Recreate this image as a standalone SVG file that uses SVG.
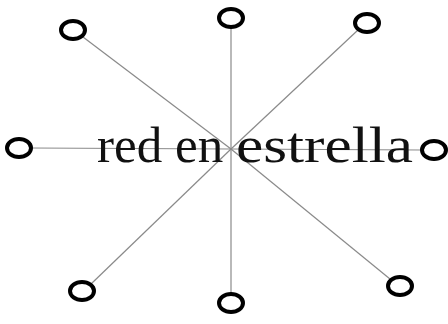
<svg xmlns="http://www.w3.org/2000/svg" width="448" height="324" viewBox="0 0 448 324">
<style>
.n{fill:none;stroke:#000;stroke-width:4}
.c line{stroke:#8a8a8a;stroke-width:1.2}
.t{font-family:"Liberation Serif","Times New Roman",serif;font-size:51px;fill:#111}
</style>
<rect width="448" height="324" fill="#fff"/>
<g class="c" id="connectors">
<line x1="231" y1="149" x2="83" y2="37"/>
<line x1="231" y1="149" x2="231" y2="27"/>
<line x1="231" y1="149" x2="358" y2="30"/>
<line x1="231" y1="149" x2="31" y2="148"/>
<line x1="231" y1="149" x2="422" y2="150"/>
<line x1="231" y1="149" x2="91" y2="284"/>
<line x1="231" y1="149" x2="231" y2="295"/>
<line x1="231" y1="149" x2="390" y2="279"/>
</g>
<g id="n1"><ellipse class="n" cx="73" cy="30" rx="12" ry="9"/></g>
<g id="n2"><ellipse class="n" cx="231" cy="18" rx="12" ry="9"/></g>
<g id="n3"><ellipse class="n" cx="367" cy="23" rx="12" ry="9"/></g>
<g id="n4"><ellipse class="n" cx="19" cy="148" rx="12" ry="9"/></g>
<g id="n5"><ellipse class="n" cx="434" cy="150" rx="12" ry="9"/></g>
<g id="n6"><ellipse class="n" cx="82" cy="291" rx="12" ry="9"/></g>
<g id="n7"><ellipse class="n" cx="231" cy="303" rx="12" ry="9"/></g>
<g id="n8"><ellipse class="n" cx="400" cy="286" rx="12" ry="9"/></g>
<g id="label"><text class="t" y="162"><tspan x="97" textLength="139" lengthAdjust="spacingAndGlyphs">red en </tspan><tspan x="236" textLength="177" lengthAdjust="spacingAndGlyphs">estrella</tspan></text></g>
</svg>
